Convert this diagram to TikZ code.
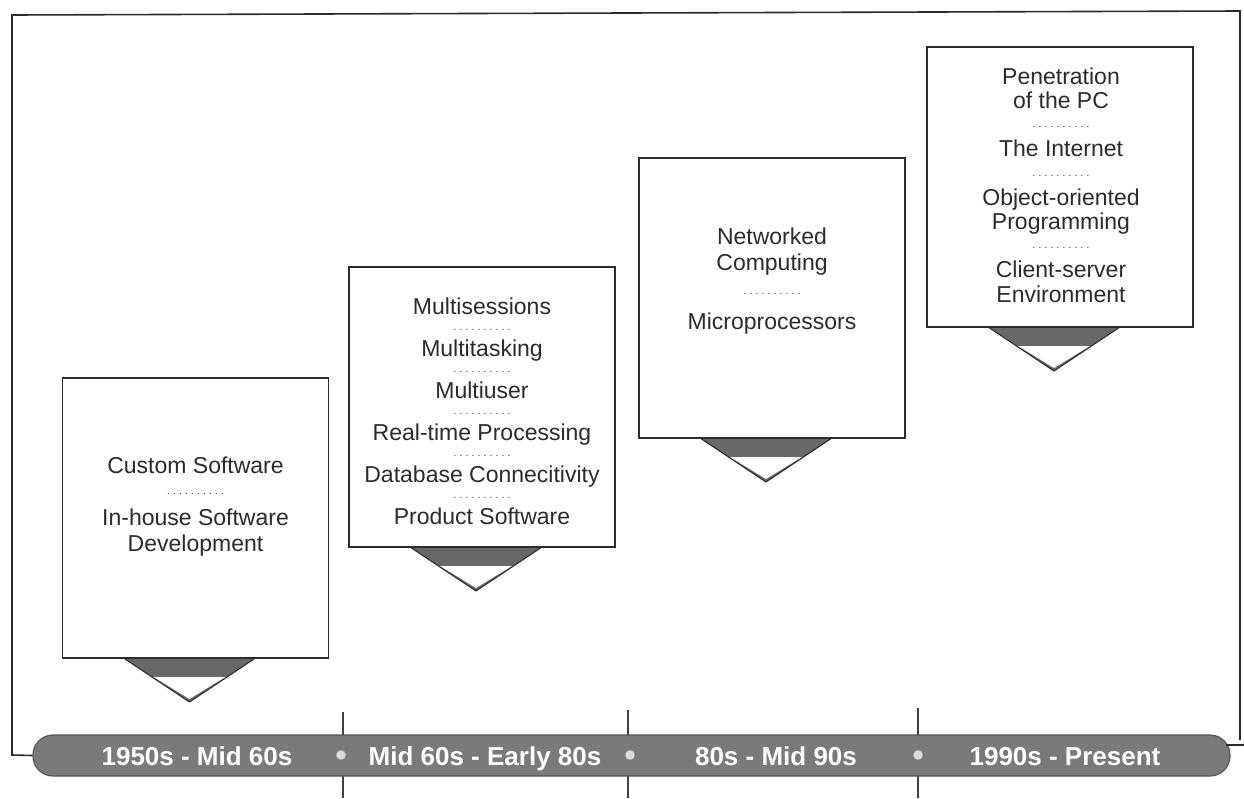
\documentclass[tikz,border=0pt]{standalone}
\usepackage{fontspec}
\setmainfont{Liberation Sans}
\usetikzlibrary{calc}
\definecolor{ink}{HTML}{2B2B2B}
\definecolor{bargray}{HTML}{7A7A7A}
\definecolor{tridark}{HTML}{686868}
\definecolor{dotfill}{HTML}{DCDCDC}
\newcommand\dotrow{\raisebox{5pt}{\fontsize{10}{10}\selectfont\leaders\hbox to 6pt{\hss.\hss}\hskip 60pt}}
\begin{document}
\begin{tikzpicture}[x=1pt,y=-1pt,
  box/.style={draw=ink, line width=1.6pt, fill=white, minimum width=266pt, minimum height=280pt, inner sep=0pt},
  label/.style={text=ink, align=center, inner sep=0pt, font=\fontsize{23}{26}\selectfont},
  period/.style={text=white, inner sep=0pt, anchor=base, font=\bfseries\fontsize{26}{26}\selectfont},
  bar/.style={draw=ink!80, line width=1.2pt, fill=bargray, rounded corners=20pt, minimum width=1197pt, minimum height=41pt, inner sep=0pt},
  tick/.style={draw=ink!90, line width=2.6pt},
  frameline/.style={draw=ink, line width=1.6pt},
  dotmark/.style={circle, draw=ink!50, line width=0.6pt, fill=dotfill, minimum size=10pt, inner sep=0pt},
  tridark/.style={fill=tridark, draw=ink, line width=1pt, line join=round}
]
\useasboundingbox (0,0) rectangle (1244,798);
\fill[white] (0,0) rectangle (1244,798);

% outer frame
\coordinate (f1) at (12,15);
\coordinate (f2) at (1240,11);
\coordinate (f3) at (1240,740);
\coordinate (f4) at (12,755);
\coordinate (f5) at (1244,745);
\coordinate (f6) at (1226,745);

% timeline ticks
\coordinate (k1t) at (343,712); \coordinate (k1b) at (343,798);
\coordinate (k2t) at (628,710); \coordinate (k2b) at (628,798);
\coordinate (k3t) at (918,708); \coordinate (k3b) at (918,798);
\draw[tick] (k1t) -- (k1b);
\draw[tick] (k2t) -- (k2b);
\draw[tick] (k3t) -- (k3b);

% timeline bar
\node[bar] (bar) at (631.5,755.5) {};
\draw[frameline] (f3) -- (f2) -- (f1) -- (f4) -- (bar.west);
\draw[frameline] (f6) -- (f5);

\node[dotmark] (d1) at (341,755) {};
\node[dotmark] (d2) at (630,755) {};
\node[dotmark] (d3) at (918,755) {};

\node[period] (p1) at (197,765) {1950s - Mid 60s};
\node[period] (p2) at (485,765) {Mid 60s - Early 80s};
\node[period] (p3) at (776,765) {80s - Mid 90s};
\node[period] (p4) at (1065,765) {1990s - Present};

% boxes
\coordinate (c1) at (195.5,518);
\coordinate (c2) at (482,407);
\coordinate (c3) at (772,298);
\coordinate (c4) at (1060,187);

\foreach \c in {c1,c2,c3,c4}{
  \begin{scope}[shift={($(\c)+(0,140)$)}]
    \fill[tridark] (-72,0) -- (-6,44) -- (60,0) -- cycle;
    \fill[white] (-42,19) -- (-6,41) -- (30,19) -- cycle;
  \end{scope}
}

\node[box] (b1) at (c1) {};
\node[box] (b2) at (c2) {};
\node[box] (b3) at (c3) {};
\node[box] (b4) at (c4) {};

\node[label] (t1) at (195.5,507) {Custom Software\\\dotrow\\In-house Software\\Development};
\node[label, font=\fontsize{23}{21}\selectfont] (t2) at (482,411) {Multisessions\\\dotrow\\Multitasking\\\dotrow\\Multiuser\\\dotrow\\Real-time Processing\\\dotrow\\Database Connecitivity\\\dotrow\\Product Software};
\node[label] (t3) at (772,281) {Networked\\Computing\\[3pt]\dotrow\\[4pt]Microprocessors};
\node[label, font=\fontsize{23}{24.2}\selectfont] (t4) at (1061,185) {Penetration\\of the PC\\\dotrow\\The Internet\\\dotrow\\Object-oriented\\Programming\\\dotrow\\Client-server\\Environment};
\end{tikzpicture}
\end{document}
